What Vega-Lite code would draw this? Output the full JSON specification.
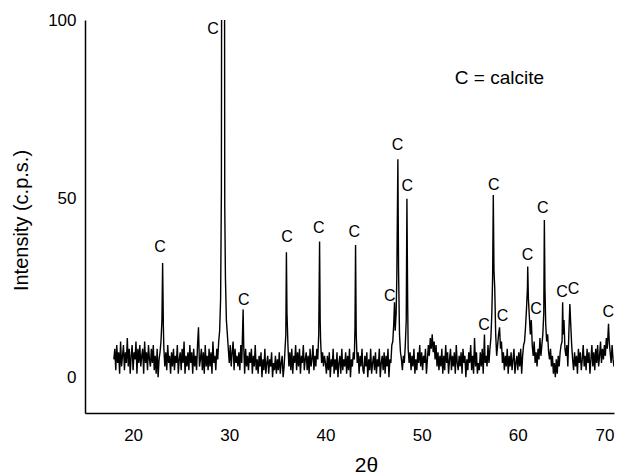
{
  "$schema": "https://vega.github.io/schema/vega-lite/v6.json",
  "width": 529,
  "height": 393,
  "autosize": {"type": "none"},
  "padding": {"left": 85, "top": 20, "right": 12, "bottom": 63},
  "background": "white",
  "config": {
    "view": {"stroke": null},
    "font": "Liberation Sans",
    "axis": {
      "grid": false,
      "ticks": false,
      "domainColor": "black",
      "domainWidth": 1.5,
      "labelColor": "black",
      "titleColor": "black",
      "labelFont": "Liberation Sans",
      "titleFont": "Liberation Sans",
      "labelFontSize": 17,
      "titleFontWeight": "normal"
    }
  },
  "datasets": {
    "xrd": [
      {"t":18.0,"i":5},{"t":18.1,"i":8},{"t":18.2,"i":2},{"t":18.3,"i":9},{"t":18.4,"i":4},{"t":18.5,"i":7},{"t":18.6,"i":1},{"t":18.7,"i":10},{"t":18.8,"i":3},{"t":18.9,"i":6},
      {"t":19.0,"i":9},{"t":19.1,"i":2},{"t":19.2,"i":7},{"t":19.3,"i":4},{"t":19.4,"i":11},{"t":19.5,"i":3},{"t":19.6,"i":8},{"t":19.7,"i":1},{"t":19.8,"i":6},{"t":19.9,"i":9},
      {"t":20.0,"i":2},{"t":20.1,"i":7},{"t":20.2,"i":5},{"t":20.3,"i":10},{"t":20.4,"i":1},{"t":20.5,"i":8},{"t":20.6,"i":4},{"t":20.7,"i":9},{"t":20.8,"i":3},{"t":20.9,"i":6},
      {"t":21.0,"i":8},{"t":21.1,"i":1},{"t":21.2,"i":10},{"t":21.3,"i":4},{"t":21.4,"i":7},{"t":21.5,"i":2},{"t":21.6,"i":9},{"t":21.7,"i":5},{"t":21.8,"i":3},{"t":21.9,"i":8},
      {"t":22.0,"i":4},{"t":22.1,"i":9},{"t":22.2,"i":2},{"t":22.3,"i":6},{"t":22.4,"i":1},{"t":22.5,"i":8},{"t":22.6,"i":0},{"t":22.7,"i":5},{"t":22.8,"i":7},{"t":22.9,"i":10},
      {"t":23.0,"i":16},{"t":23.07,"i":32},{"t":23.15,"i":14},{"t":23.2,"i":8},{"t":23.3,"i":3},{"t":23.4,"i":7},{"t":23.5,"i":2},{"t":23.6,"i":9},{"t":23.7,"i":4},{"t":23.8,"i":6},{"t":23.9,"i":1},
      {"t":24.0,"i":7},{"t":24.1,"i":3},{"t":24.2,"i":8},{"t":24.3,"i":2},{"t":24.4,"i":6},{"t":24.5,"i":4},{"t":24.6,"i":9},{"t":24.7,"i":1},{"t":24.8,"i":5},{"t":24.9,"i":7},
      {"t":25.0,"i":2},{"t":25.1,"i":8},{"t":25.2,"i":4},{"t":25.3,"i":10},{"t":25.4,"i":1},{"t":25.5,"i":6},{"t":25.6,"i":3},{"t":25.7,"i":7},{"t":25.8,"i":2},{"t":25.9,"i":9},
      {"t":26.0,"i":4},{"t":26.1,"i":7},{"t":26.2,"i":1},{"t":26.3,"i":8},{"t":26.4,"i":3},{"t":26.5,"i":6},{"t":26.6,"i":2},{"t":26.7,"i":9},{"t":26.8,"i":14},{"t":26.9,"i":3},
      {"t":27.0,"i":5},{"t":27.1,"i":8},{"t":27.2,"i":2},{"t":27.3,"i":7},{"t":27.4,"i":1},{"t":27.5,"i":9},{"t":27.6,"i":3},{"t":27.7,"i":6},{"t":27.8,"i":2},{"t":27.9,"i":8},
      {"t":28.0,"i":3},{"t":28.1,"i":7},{"t":28.2,"i":1},{"t":28.3,"i":10},{"t":28.4,"i":4},{"t":28.5,"i":6},{"t":28.6,"i":2},{"t":28.7,"i":8},{"t":28.8,"i":5},{"t":28.9,"i":10},
      {"t":29.0,"i":13},{"t":29.1,"i":22},{"t":29.18,"i":52},{"t":29.24,"i":200},{"t":29.48,"i":200},{"t":29.53,"i":48},{"t":29.6,"i":28},{"t":29.7,"i":16},{"t":29.8,"i":12},{"t":29.9,"i":8},
      {"t":30.0,"i":4},{"t":30.1,"i":9},{"t":30.2,"i":3},{"t":30.3,"i":7},{"t":30.4,"i":10},{"t":30.5,"i":2},{"t":30.6,"i":8},{"t":30.7,"i":4},{"t":30.8,"i":6},{"t":30.9,"i":3},
      {"t":31.0,"i":7},{"t":31.1,"i":2},{"t":31.2,"i":9},{"t":31.3,"i":4},{"t":31.44,"i":19},{"t":31.5,"i":9},{"t":31.6,"i":1},{"t":31.7,"i":8},{"t":31.8,"i":3},{"t":31.9,"i":6},
      {"t":32.0,"i":2},{"t":32.1,"i":7},{"t":32.2,"i":4},{"t":32.3,"i":8},{"t":32.4,"i":1},{"t":32.5,"i":6},{"t":32.6,"i":3},{"t":32.7,"i":9},{"t":32.8,"i":2},{"t":32.9,"i":5},
      {"t":33.0,"i":1},{"t":33.1,"i":6},{"t":33.2,"i":3},{"t":33.3,"i":7},{"t":33.4,"i":0},{"t":33.5,"i":5},{"t":33.6,"i":2},{"t":33.7,"i":8},{"t":33.8,"i":1},{"t":33.9,"i":4},
      {"t":34.0,"i":6},{"t":34.1,"i":1},{"t":34.2,"i":5},{"t":34.3,"i":3},{"t":34.4,"i":7},{"t":34.5,"i":0},{"t":34.6,"i":4},{"t":34.7,"i":2},{"t":34.8,"i":6},{"t":34.9,"i":1},
      {"t":35.0,"i":5},{"t":35.1,"i":2},{"t":35.2,"i":7},{"t":35.3,"i":1},{"t":35.4,"i":4},{"t":35.5,"i":6},{"t":35.6,"i":0},{"t":35.7,"i":3},{"t":35.8,"i":8},{"t":35.88,"i":12},{"t":35.94,"i":35},{"t":36.0,"i":18},
      {"t":36.1,"i":9},{"t":36.2,"i":3},{"t":36.3,"i":7},{"t":36.4,"i":2},{"t":36.5,"i":8},{"t":36.6,"i":1},{"t":36.7,"i":6},{"t":36.8,"i":4},{"t":36.9,"i":9},
      {"t":37.0,"i":2},{"t":37.1,"i":7},{"t":37.2,"i":3},{"t":37.3,"i":8},{"t":37.4,"i":1},{"t":37.5,"i":6},{"t":37.6,"i":4},{"t":37.7,"i":9},{"t":37.8,"i":2},{"t":37.9,"i":5},
      {"t":38.0,"i":7},{"t":38.1,"i":2},{"t":38.2,"i":6},{"t":38.3,"i":1},{"t":38.4,"i":8},{"t":38.5,"i":3},{"t":38.6,"i":5},{"t":38.7,"i":9},{"t":38.8,"i":2},{"t":38.9,"i":6},
      {"t":39.0,"i":3},{"t":39.1,"i":8},{"t":39.2,"i":5},{"t":39.3,"i":12},{"t":39.39,"i":38},{"t":39.45,"i":16},{"t":39.5,"i":10},{"t":39.6,"i":4},{"t":39.7,"i":7},{"t":39.8,"i":3},{"t":39.9,"i":6},
      {"t":40.0,"i":4},{"t":40.1,"i":1},{"t":40.2,"i":6},{"t":40.3,"i":2},{"t":40.4,"i":7},{"t":40.5,"i":0},{"t":40.6,"i":5},{"t":40.7,"i":3},{"t":40.8,"i":8},{"t":40.9,"i":1},
      {"t":41.0,"i":5},{"t":41.1,"i":2},{"t":41.2,"i":7},{"t":41.3,"i":0},{"t":41.4,"i":4},{"t":41.5,"i":6},{"t":41.6,"i":1},{"t":41.7,"i":8},{"t":41.8,"i":2},{"t":41.9,"i":5},
      {"t":42.0,"i":3},{"t":42.1,"i":7},{"t":42.2,"i":1},{"t":42.3,"i":6},{"t":42.4,"i":2},{"t":42.5,"i":8},{"t":42.6,"i":0},{"t":42.7,"i":5},{"t":42.8,"i":3},{"t":42.9,"i":7},
      {"t":43.0,"i":5},{"t":43.07,"i":14},{"t":43.13,"i":37},{"t":43.2,"i":12},{"t":43.3,"i":4},{"t":43.4,"i":7},{"t":43.5,"i":1},{"t":43.6,"i":6},{"t":43.7,"i":3},{"t":43.8,"i":8},{"t":43.9,"i":2},
      {"t":44.0,"i":1},{"t":44.1,"i":6},{"t":44.2,"i":3},{"t":44.3,"i":7},{"t":44.4,"i":0},{"t":44.5,"i":5},{"t":44.6,"i":2},{"t":44.7,"i":8},{"t":44.8,"i":1},{"t":44.9,"i":4},
      {"t":45.0,"i":6},{"t":45.1,"i":2},{"t":45.2,"i":7},{"t":45.3,"i":1},{"t":45.4,"i":5},{"t":45.5,"i":3},{"t":45.6,"i":8},{"t":45.7,"i":0},{"t":45.8,"i":4},{"t":45.9,"i":6},
      {"t":46.0,"i":2},{"t":46.1,"i":7},{"t":46.2,"i":1},{"t":46.3,"i":6},{"t":46.4,"i":3},{"t":46.5,"i":8},{"t":46.6,"i":0},{"t":46.7,"i":5},{"t":46.8,"i":4},{"t":46.9,"i":9},
      {"t":47.0,"i":10},{"t":47.1,"i":15},{"t":47.18,"i":21},{"t":47.25,"i":13},{"t":47.35,"i":18},{"t":47.42,"i":28},{"t":47.53,"i":61},{"t":47.6,"i":30},{"t":47.7,"i":12},{"t":47.8,"i":7},{"t":47.9,"i":5},
      {"t":48.0,"i":2},{"t":48.1,"i":6},{"t":48.2,"i":4},{"t":48.3,"i":9},{"t":48.4,"i":16},{"t":48.47,"i":50},{"t":48.55,"i":20},{"t":48.6,"i":8},{"t":48.7,"i":4},{"t":48.8,"i":7},{"t":48.9,"i":2},
      {"t":49.0,"i":6},{"t":49.1,"i":3},{"t":49.2,"i":8},{"t":49.3,"i":1},{"t":49.4,"i":5},{"t":49.5,"i":2},{"t":49.6,"i":7},{"t":49.7,"i":4},{"t":49.8,"i":9},{"t":49.9,"i":3},
      {"t":50.0,"i":7},{"t":50.1,"i":2},{"t":50.2,"i":6},{"t":50.3,"i":4},{"t":50.4,"i":8},{"t":50.5,"i":1},{"t":50.6,"i":5},{"t":50.7,"i":9},{"t":50.8,"i":6},{"t":50.9,"i":11},
      {"t":51.0,"i":8},{"t":51.1,"i":12},{"t":51.2,"i":7},{"t":51.3,"i":10},{"t":51.4,"i":5},{"t":51.5,"i":9},{"t":51.6,"i":3},{"t":51.7,"i":7},{"t":51.8,"i":2},{"t":51.9,"i":6},
      {"t":52.0,"i":3},{"t":52.1,"i":8},{"t":52.2,"i":1},{"t":52.3,"i":6},{"t":52.4,"i":2},{"t":52.5,"i":9},{"t":52.6,"i":4},{"t":52.7,"i":7},{"t":52.8,"i":1},{"t":52.9,"i":5},
      {"t":53.0,"i":8},{"t":53.1,"i":2},{"t":53.2,"i":6},{"t":53.3,"i":3},{"t":53.4,"i":7},{"t":53.5,"i":1},{"t":53.6,"i":9},{"t":53.7,"i":4},{"t":53.8,"i":2},{"t":53.9,"i":6},
      {"t":54.0,"i":3},{"t":54.1,"i":7},{"t":54.2,"i":1},{"t":54.3,"i":8},{"t":54.4,"i":4},{"t":54.5,"i":6},{"t":54.6,"i":0},{"t":54.7,"i":5},{"t":54.8,"i":2},{"t":54.9,"i":7},
      {"t":55.0,"i":4},{"t":55.1,"i":9},{"t":55.2,"i":2},{"t":55.3,"i":6},{"t":55.4,"i":1},{"t":55.5,"i":11},{"t":55.6,"i":3},{"t":55.7,"i":7},{"t":55.8,"i":1},{"t":55.9,"i":4},
      {"t":56.0,"i":2},{"t":56.1,"i":7},{"t":56.2,"i":3},{"t":56.3,"i":8},{"t":56.4,"i":1},{"t":56.53,"i":12},{"t":56.6,"i":4},{"t":56.7,"i":6},{"t":56.8,"i":3},{"t":56.9,"i":9},
      {"t":57.0,"i":4},{"t":57.1,"i":8},{"t":57.2,"i":11},{"t":57.3,"i":18},{"t":57.38,"i":28},{"t":57.45,"i":51},{"t":57.52,"i":30},{"t":57.6,"i":25},{"t":57.7,"i":12},{"t":57.8,"i":6},{"t":57.9,"i":9},
      {"t":58.0,"i":12},{"t":58.1,"i":14},{"t":58.2,"i":8},{"t":58.3,"i":10},{"t":58.4,"i":4},{"t":58.5,"i":7},{"t":58.6,"i":2},{"t":58.7,"i":6},{"t":58.8,"i":3},{"t":58.9,"i":8},
      {"t":59.0,"i":1},{"t":59.1,"i":6},{"t":59.2,"i":3},{"t":59.3,"i":7},{"t":59.4,"i":2},{"t":59.5,"i":5},{"t":59.6,"i":8},{"t":59.7,"i":1},{"t":59.8,"i":4},{"t":59.9,"i":6},
      {"t":60.0,"i":2},{"t":60.1,"i":7},{"t":60.2,"i":3},{"t":60.3,"i":8},{"t":60.4,"i":1},{"t":60.5,"i":6},{"t":60.6,"i":9},{"t":60.7,"i":10},{"t":60.8,"i":14},{"t":60.9,"i":19},
      {"t":61.0,"i":25},{"t":61.03,"i":31},{"t":61.1,"i":22},{"t":61.2,"i":17},{"t":61.3,"i":12},{"t":61.4,"i":16},{"t":61.5,"i":9},{"t":61.6,"i":6},{"t":61.7,"i":10},{"t":61.8,"i":4},{"t":61.9,"i":7},
      {"t":62.0,"i":3},{"t":62.1,"i":8},{"t":62.2,"i":5},{"t":62.3,"i":11},{"t":62.4,"i":6},{"t":62.5,"i":9},{"t":62.6,"i":12},{"t":62.7,"i":18},{"t":62.76,"i":44},{"t":62.82,"i":25},{"t":62.9,"i":15},
      {"t":63.0,"i":10},{"t":63.1,"i":12},{"t":63.2,"i":7},{"t":63.3,"i":5},{"t":63.4,"i":8},{"t":63.5,"i":3},{"t":63.6,"i":6},{"t":63.7,"i":1},{"t":63.8,"i":4},{"t":63.9,"i":0},
      {"t":64.0,"i":5},{"t":64.1,"i":1},{"t":64.2,"i":6},{"t":64.3,"i":3},{"t":64.4,"i":7},{"t":64.5,"i":9},{"t":64.6,"i":10},{"t":64.66,"i":21},{"t":64.72,"i":12},{"t":64.8,"i":16},{"t":64.9,"i":8},
      {"t":65.0,"i":6},{"t":65.1,"i":9},{"t":65.2,"i":3},{"t":65.3,"i":12},{"t":65.41,"i":20.5},{"t":65.5,"i":15},{"t":65.6,"i":9},{"t":65.7,"i":5},{"t":65.8,"i":2},{"t":65.9,"i":7},
      {"t":66.0,"i":3},{"t":66.1,"i":6},{"t":66.2,"i":1},{"t":66.3,"i":8},{"t":66.4,"i":4},{"t":66.5,"i":7},{"t":66.6,"i":2},{"t":66.7,"i":5},{"t":66.8,"i":9},{"t":66.9,"i":3},
      {"t":67.0,"i":6},{"t":67.1,"i":2},{"t":67.2,"i":8},{"t":67.3,"i":4},{"t":67.4,"i":7},{"t":67.5,"i":1},{"t":67.6,"i":5},{"t":67.7,"i":9},{"t":67.8,"i":3},{"t":67.9,"i":7},
      {"t":68.0,"i":2},{"t":68.1,"i":8},{"t":68.2,"i":4},{"t":68.3,"i":9},{"t":68.4,"i":3},{"t":68.5,"i":6},{"t":68.6,"i":10},{"t":68.7,"i":4},{"t":68.8,"i":8},{"t":68.9,"i":5},
      {"t":69.0,"i":9},{"t":69.1,"i":6},{"t":69.2,"i":11},{"t":69.3,"i":8},{"t":69.43,"i":15},{"t":69.5,"i":10},{"t":69.6,"i":7},{"t":69.7,"i":4},{"t":69.8,"i":9},{"t":69.9,"i":5},
      {"t":70.0,"i":3}
    ],
    "labels": [
      {"t":22.8,"i":36.5,"s":"C"},{"t":28.3,"i":97.6,"s":"C"},{"t":31.5,"i":21.7,"s":"C"},
      {"t":36.0,"i":39.2,"s":"C"},{"t":39.3,"i":41.7,"s":"C"},{"t":43.0,"i":40.6,"s":"C"},
      {"t":46.7,"i":22.8,"s":"C"},{"t":47.5,"i":65,"s":"C"},{"t":48.5,"i":53.4,"s":"C"},
      {"t":56.5,"i":14.7,"s":"C"},{"t":57.5,"i":53.9,"s":"C"},{"t":58.4,"i":17.2,"s":"C"},
      {"t":61.0,"i":34.3,"s":"C"},{"t":61.9,"i":19,"s":"C"},{"t":62.6,"i":47.3,"s":"C"},
      {"t":64.6,"i":23.8,"s":"C"},{"t":65.8,"i":24.6,"s":"C"},{"t":69.4,"i":18.4,"s":"C"}
    ],
    "xmajor": [{"t":20},{"t":30},{"t":40},{"t":50},{"t":60},{"t":70}],
    "xminor": [{"t":25},{"t":35},{"t":45},{"t":55},{"t":65}],
    "ymajor": [{"i":0},{"i":50},{"i":100}],
    "yminor": [{"i":25},{"i":75}],
    "note": [{"t":53.45,"i":83.9,"s":"C = calcite"}]
  },
  "encoding": {
    "x": {
      "field": "t", "type": "quantitative",
      "scale": {"domain": [15, 70], "nice": false, "zero": false},
      "axis": {
        "values": [20, 30, 40, 50, 60, 70],
        "labelPadding": 14,
        "title": "2θ",
        "titleFontSize": 21,
        "titleX": 281,
        "titleY": 52,
        "titleBaseline": "middle",
        "titleAlign": "center"
      }
    },
    "y": {
      "field": "i", "type": "quantitative",
      "scale": {"domain": [-10, 100], "nice": false, "zero": false},
      "axis": {
        "values": [0, 50, 100],
        "labelPadding": 9,
        "title": "Intensity (c.p.s.)",
        "titleFontSize": 20,
        "titleAngle": -90,
        "titleX": -64,
        "titleY": 200,
        "titleBaseline": "middle",
        "titleAlign": "center"
      }
    }
  },
  "layer": [
    {
      "data": {"name": "xrd"},
      "mark": {"type": "line", "color": "black", "strokeWidth": 1.4, "clip": true}
    },
    {
      "data": {"name": "xmajor"},
      "mark": {"type": "rule", "color": "black", "strokeWidth": 1.5},
      "encoding": {
        "y": {"datum": -10, "type": "quantitative", "scale": {"domain": [-10, 100], "nice": false, "zero": false}, "axis": {"values": [0, 50, 100], "labelPadding": 9, "title": "Intensity (c.p.s.)", "titleFontSize": 20, "titleAngle": -90, "titleX": -64, "titleY": 200, "titleBaseline": "middle", "titleAlign": "center"}},
        "y2": {"datum": -7.8}
      }
    },
    {
      "data": {"name": "xminor"},
      "mark": {"type": "rule", "color": "black", "strokeWidth": 1.5},
      "encoding": {
        "y": {"datum": -10, "type": "quantitative", "scale": {"domain": [-10, 100], "nice": false, "zero": false}, "axis": {"values": [0, 50, 100], "labelPadding": 9, "title": "Intensity (c.p.s.)", "titleFontSize": 20, "titleAngle": -90, "titleX": -64, "titleY": 200, "titleBaseline": "middle", "titleAlign": "center"}},
        "y2": {"datum": -8.9}
      }
    },
    {
      "data": {"name": "ymajor"},
      "mark": {"type": "rule", "color": "black", "strokeWidth": 1.5},
      "encoding": {
        "x": {"datum": 15, "type": "quantitative", "scale": {"domain": [15, 70], "nice": false, "zero": false}, "axis": {"values": [20, 30, 40, 50, 60, 70], "labelPadding": 14, "title": "2θ", "titleFontSize": 21, "titleX": 281, "titleY": 52, "titleBaseline": "middle", "titleAlign": "center"}},
        "x2": {"datum": 15.83}
      }
    },
    {
      "data": {"name": "yminor"},
      "mark": {"type": "rule", "color": "black", "strokeWidth": 1.5},
      "encoding": {
        "x": {"datum": 15, "type": "quantitative", "scale": {"domain": [15, 70], "nice": false, "zero": false}, "axis": {"values": [20, 30, 40, 50, 60, 70], "labelPadding": 14, "title": "2θ", "titleFontSize": 21, "titleX": 281, "titleY": 52, "titleBaseline": "middle", "titleAlign": "center"}},
        "x2": {"datum": 15.42}
      }
    },
    {
      "data": {"name": "labels"},
      "mark": {"type": "text", "font": "Liberation Sans", "fontSize": 16, "color": "black", "align": "center", "baseline": "middle"},
      "encoding": {"text": {"field": "s"}}
    },
    {
      "data": {"name": "note"},
      "mark": {"type": "text", "font": "Liberation Sans", "fontSize": 19, "color": "black", "align": "left", "baseline": "middle"},
      "encoding": {"text": {"field": "s"}}
    }
  ]
}
